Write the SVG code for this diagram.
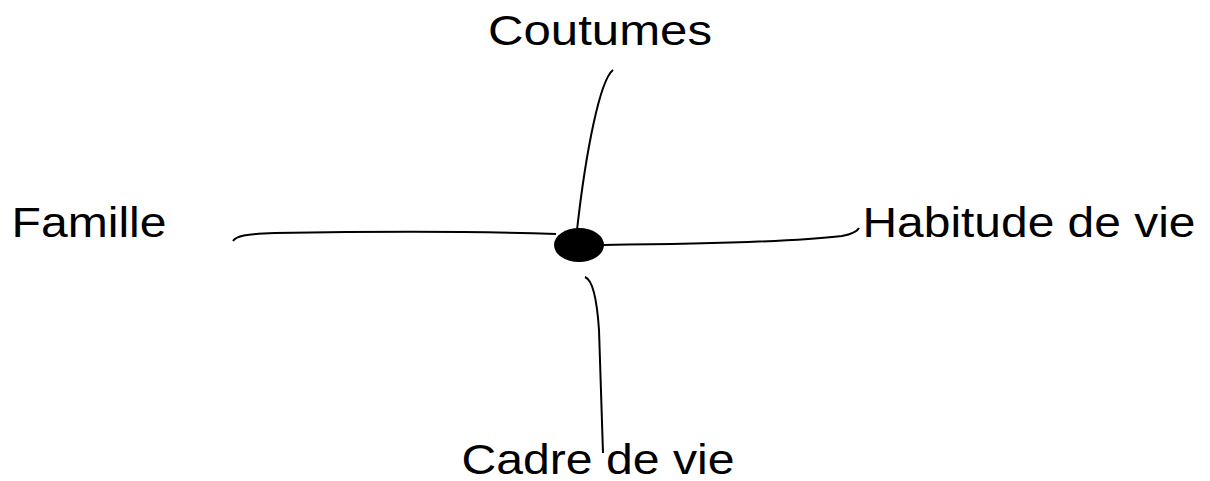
<svg xmlns="http://www.w3.org/2000/svg" width="1210" height="481" viewBox="0 0 1210 481">
<style>
.lbl{font-family:"Liberation Sans",Arial,sans-serif;font-size:43px;fill:#000;text-anchor:middle}
.ln{fill:none;stroke:#000;stroke-width:2}
</style>
<rect width="1210" height="481" fill="#fff"/>
<g id="connectors">
<path class="ln" d="M613,70 C600,80 586,150 577,230"/>
<path class="ln" d="M233,241 C236,236 245,234 275,233 C400,231 500,232 556,234"/>
<path class="ln" d="M603,245 C700,244 800,241 842,236 C852,234 857,232 859,228"/>
<path class="ln" d="M585,277 C593,280 597,300 599,330 C601,380 602,420 603,453"/>
</g>
<g id="center"><ellipse cx="579" cy="245" rx="25" ry="17" fill="#000"/></g>
<g id="coutumes"><text class="lbl" x="600" y="45" textLength="224" lengthAdjust="spacingAndGlyphs">Coutumes</text></g>
<g id="famille"><text class="lbl" x="89" y="237" textLength="155" lengthAdjust="spacingAndGlyphs">Famille</text></g>
<g id="habitude"><text class="lbl" x="1029" y="237" textLength="333" lengthAdjust="spacingAndGlyphs">Habitude de vie</text></g>
<g id="cadre"><text class="lbl" x="598" y="474" textLength="273" lengthAdjust="spacingAndGlyphs">Cadre de vie</text></g>
</svg>
